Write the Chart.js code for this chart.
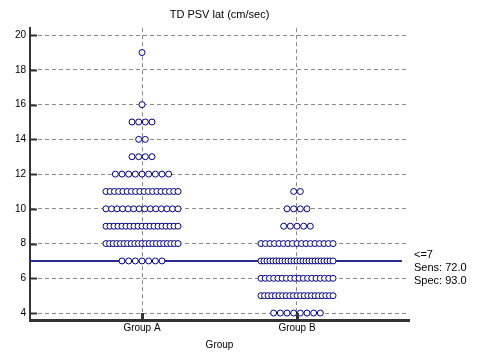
<!DOCTYPE html>
<html>
<head>
<meta charset="utf-8">
<script src="https://cdn.jsdelivr.net/npm/chart.js@4.4.1/dist/chart.umd.min.js"></script>
<style>
  html, body { margin: 0; padding: 0; background: #ffffff; }
  #wrap { width: 484px; height: 364px; }
</style>
</head>
<body>
<div id="wrap"><canvas id="c" width="484" height="364"></canvas></div>
<script>
// ---- data ----
const categories = ['Group A', 'Group B'];
const values  = [19, 18, 17, 16, 15, 14, 13, 12, 11, 10,  9,  8,  7,  6,  5, 4];
const countsA = [ 1,  0,  0,  1,  4,  2,  4,  9, 18, 14, 19, 21,  7,  0,  0, 0];
const countsB = [ 0,  0,  0,  0,  0,  0,  0,  0,  2,  4,  5, 17, 25, 18, 21, 8];
const yTicks  = [4, 6, 8, 10, 12, 14, 16, 18, 20];
const criterion = 7;
const criterionLabels = ['<=7', 'Sens: 72.0', 'Spec: 93.0'];
const chartTitle = 'TD PSV lat (cm/sec)';
const xTitle = 'Group';

// dot-plot layout (spacing in category units)
const NAT_STEP = 0.043;
const MAX_SPAN = 0.465;
function dotPoints(groupIndex, counts) {
  const pts = [];
  values.forEach((v, i) => {
    const n = counts[i];
    if (!n) return;
    const step = n > 1 ? Math.min(NAT_STEP, MAX_SPAN / (n - 1)) : 0;
    for (let k = 0; k < n; k++) {
      pts.push({ x: groupIndex + (k - (n - 1) / 2) * step, y: v });
    }
  });
  return pts;
}

const X_MIN = -0.7226, X_MAX = 1.7226;
const FONT = "'Liberation Sans', Arial, sans-serif";

const extras = {
  id: 'extras',
  afterDraw(chart) {
    const ctx = chart.ctx;
    const xs = chart.scales.x, ys = chart.scales.y;
    const area = chart.chartArea;
    ctx.save();
    ctx.strokeStyle = '#333333';
    ctx.lineWidth = 2;
    ctx.beginPath();
    yTicks.forEach(t => {
      const py = Math.round(ys.getPixelForValue(t)) + 0.5;
      ctx.moveTo(area.left, py);
      ctx.lineTo(area.left + 7, py);
    });
    ctx.stroke();
    ctx.lineWidth = 3;
    ctx.beginPath();
    categories.forEach((c, i) => {
      const px = Math.round(xs.getPixelForValue(i)) + 0.5;
      ctx.moveTo(px, area.bottom);
      ctx.lineTo(px, area.bottom - 7);
    });
    ctx.stroke();
    // criterion labels
    ctx.fillStyle = '#000000';
    ctx.font = '11px ' + FONT;
    ctx.textBaseline = 'middle';
    ctx.textAlign = 'left';
    const py = ys.getPixelForValue(criterion);
    criterionLabels.forEach((t, i) => {
      ctx.fillText(t, area.right + 5, py - 6 + i * 13);
    });
    ctx.restore();
  }
};

new Chart(document.getElementById('c'), {
  type: 'scatter',
  data: {
    datasets: [
      {
        label: categories[0],
        data: dotPoints(0, countsA),
        pointRadius: 3,
        pointBorderWidth: 1,
        pointBorderColor: '#000080',
        pointBackgroundColor: '#ffffff',
        showLine: false
      },
      {
        label: categories[1],
        data: dotPoints(1, countsB),
        pointRadius: 3,
        pointBorderWidth: 1,
        pointBorderColor: '#000080',
        pointBackgroundColor: '#ffffff',
        showLine: false
      },
      {
        label: 'criterion',
        data: [{ x: X_MIN, y: criterion }, { x: 1.677, y: criterion }],
        showLine: true,
        borderColor: '#2b2b8f',
        borderWidth: 2,
        pointRadius: 0,
        order: 5
      }
    ]
  },
  options: {
    responsive: false,
    animation: false,
    events: [],
    layout: { padding: { left: 0, right: 75, top: 0, bottom: 9 } },
    plugins: {
      legend: { display: false },
      tooltip: { enabled: false },
      title: {
        display: true,
        text: chartTitle,
        fullSize: false,
        color: '#000000',
        font: { family: FONT, size: 11, weight: 'normal' },
        padding: { top: 8, bottom: 7 }
      }
    },
    scales: {
      x: {
        type: 'linear',
        min: X_MIN,
        max: X_MAX,
        afterBuildTicks(scale) { scale.ticks = categories.map((c, i) => ({ value: i })); },
        ticks: {
          callback: (v) => categories[Math.round(v)],
          color: '#000000',
          font: { family: FONT, size: 10 },
          padding: 2,
          maxRotation: 0
        },
        grid: { color: '#8a8a8a', lineWidth: 1, drawTicks: false },
        border: { display: true, color: '#333333', width: 3, dash: [4, 3] },
        title: {
          display: true,
          text: xTitle,
          color: '#000000',
          font: { family: FONT, size: 10 },
          padding: { top: 3, bottom: 4 }
        }
      },
      y: {
        type: 'linear',
        min: 3.6,
        max: 20.4,
        afterBuildTicks(scale) { scale.ticks = yTicks.map(v => ({ value: v })); },
        afterFit(scale) { scale.width = 30; },
        ticks: {
          color: '#000000',
          font: { family: FONT, size: 10 },
          padding: 4
        },
        grid: { color: '#8a8a8a', lineWidth: 1, drawTicks: false },
        border: { display: true, color: '#333333', width: 2, dash: [4, 3] }
      }
    }
  },
  plugins: [extras]
});
</script>
</body>
</html>
